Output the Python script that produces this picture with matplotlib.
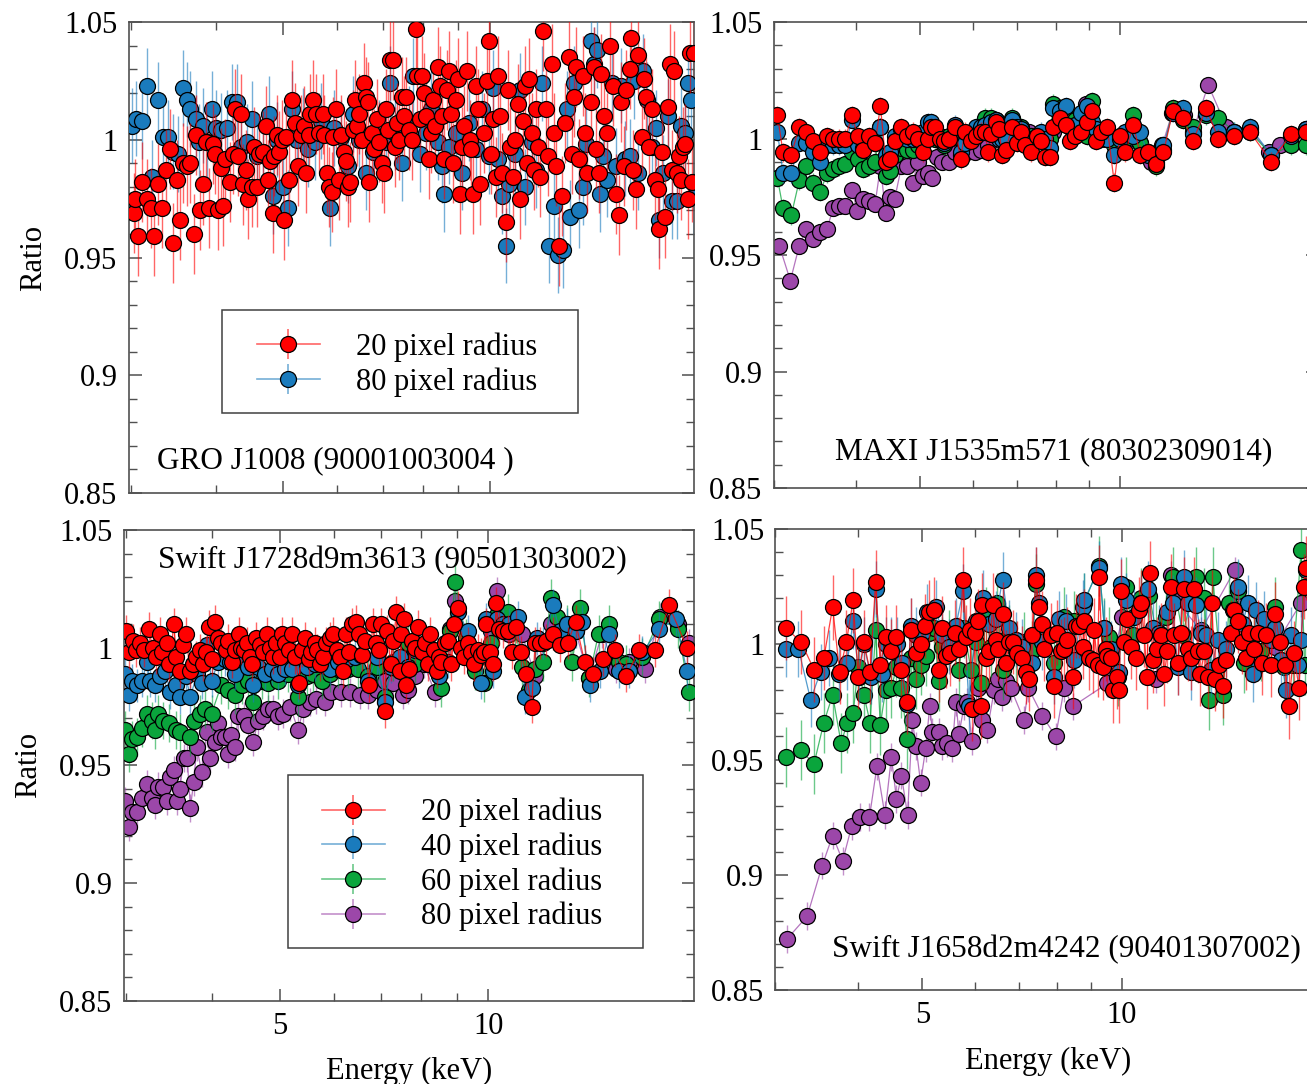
import numpy as np
import matplotlib
matplotlib.use('Agg')
import matplotlib.pyplot as plt
from matplotlib.ticker import FixedLocator, FuncFormatter, NullFormatter
from matplotlib.lines import Line2D
from matplotlib.patches import Rectangle
from matplotlib.legend_handler import HandlerTuple

plt.rcParams['font.family'] = ['Liberation Serif', 'DejaVu Serif']

# ---------------- data ----------------
# Panel 1: GRO J1008 (90001003004)
tl_red_e = [3.03,3.04,3.08,3.12,3.17,3.21,3.25,3.29,3.33,3.38,
            3.42,3.46,3.51,3.54,3.58,3.62,3.66,3.71,3.73,3.78,
            3.83,3.86,3.90,3.95,3.98,4.02,4.06,4.09,4.12,4.18,
            4.23,4.26,4.30,4.35,4.38,4.42,4.45,4.51,4.54,4.58,
            4.62,4.68,4.72,4.76,4.79,4.83,4.86,4.90,4.94,4.99,
            5.01,5.06,5.10,5.15,5.20,5.26,5.32,5.37,5.40,5.45,
            5.48,5.54,5.58,5.65,5.71,5.73,5.79,5.84,5.89,5.92,
            5.97,6.04,6.08,6.13,6.18,6.22,6.27,6.32,6.36,6.42,
            6.46,6.51,6.56,6.61,6.66,6.68,6.74,6.79,6.86,6.91,
            6.96,7.01,7.07,7.12,7.15,7.23,7.28,7.34,7.39,7.45,
            7.50,7.56,7.64,7.71,7.80,7.85,7.91,7.97,8.03,8.09,
            8.15,8.22,8.28,8.34,8.40,8.47,8.53,8.57,8.66,8.72,
            8.79,8.85,8.92,8.99,9.05,9.12,9.19,9.28,9.35,9.39,
            9.46,9.54,9.61,9.68,9.80,9.91,9.98,10.06,10.13,10.21,
            10.29,10.36,10.44,10.57,10.64,10.72,10.80,10.88,11.00,11.08,
            11.17,11.25,11.34,11.42,11.51,11.59,11.68,11.76,11.85,11.98,
            12.09,12.16,12.31,12.40,12.49,12.64,12.74,12.88,13.03,13.17,
            13.27,13.37,13.51,13.66,13.77,13.87,14.04,14.19,14.30,14.41,
            14.51,14.69,14.84,15.00,15.13,15.29,15.41,15.52,15.69,15.82,
            15.99,16.06,16.16,16.35,16.47,16.65,16.77,16.90,17.05,17.23,
            17.42,17.58,17.68,17.84,18.03,18.17,18.30,18.44,18.58,18.72,
            18.86,19.00,19.14,19.28,19.43,19.57,19.72,19.87]
tl_red_r = [0.969,0.975,0.959,0.982,0.975,0.971,0.959,0.981,0.971,0.987,
            0.996,0.956,0.983,0.966,0.990,0.989,0.990,0.960,1.002,0.970,
            0.981,0.999,0.971,0.998,0.994,0.970,0.988,0.972,0.992,0.982,
            0.994,1.013,0.993,1.011,0.981,0.987,0.975,0.980,0.997,0.980,
            0.994,0.995,1.006,0.983,0.991,0.969,0.993,1.002,0.995,1.000,
            0.966,1.001,0.983,1.017,1.007,0.989,1.002,1.006,0.986,1.002,
            1.011,1.017,1.011,1.003,1.011,1.002,0.986,0.980,0.978,1.001,
            1.013,0.983,1.002,0.995,0.991,0.980,0.982,1.004,1.017,1.006,
            1.011,1.000,1.024,1.018,1.016,0.982,1.003,0.996,1.009,0.999,
            0.990,0.986,1.013,1.004,1.034,1.034,0.997,1.007,1.000,1.018,
            1.010,1.018,1.004,1.000,1.047,1.027,1.009,1.027,1.020,1.010,
            0.992,1.003,1.017,1.006,1.031,1.023,1.010,0.992,1.021,1.029,
            1.011,0.990,1.017,1.026,0.977,0.997,1.006,1.029,1.000,0.996,
            0.977,1.023,1.013,0.981,1.003,1.025,1.042,0.994,1.009,0.984,
            1.027,1.010,0.986,0.965,1.021,0.997,0.984,1.000,1.015,0.975,
            1.008,1.023,0.990,1.026,1.003,0.987,1.013,0.997,0.984,1.046,
            1.013,0.993,1.032,1.003,0.989,0.955,0.976,1.007,1.035,0.994,
            1.018,1.031,0.992,1.027,1.003,0.986,1.016,1.031,0.996,0.986,
            1.028,1.010,1.003,1.040,1.023,0.977,0.968,1.016,0.989,1.021,
            1.030,1.043,0.987,0.979,1.036,1.001,1.026,1.018,0.997,1.013,
            0.983,0.979,0.962,0.995,0.967,1.014,1.032,0.987,1.029,0.986,
            0.993,0.983,0.997,0.998,0.975,1.037,0.982,1.037]
tl_blue_e = [3.01,3.05,3.12,3.17,3.22,3.29,3.34,3.40,3.46,3.52,
             3.58,3.62,3.66,3.73,3.77,3.82,3.88,3.94,4.00,4.06,
             4.15,4.22,4.28,4.34,4.43,4.51,4.59,4.68,4.78,4.83,
             4.90,5.00,5.08,5.15,5.24,5.34,5.44,5.56,5.69,5.86,
             5.94,6.08,6.22,6.32,6.46,6.61,6.76,6.91,7.07,7.15,
             7.28,7.45,7.62,7.74,7.91,8.07,8.22,8.40,8.53,8.57,
             8.72,8.92,9.12,9.32,9.54,9.76,9.98,10.13,10.29,10.44,
             10.57,10.68,10.88,11.08,11.25,11.51,11.68,11.94,12.22,12.40,
             12.58,12.78,12.97,13.11,13.27,13.51,13.66,13.83,14.04,14.19,
             14.34,14.47,14.62,14.84,15.06,15.29,15.52,15.76,15.99,16.23,
             16.47,16.72,16.97,17.23,17.50,17.68,17.90,18.17,18.44,18.72,
             19.00,19.23,19.43,19.63,19.87]
tl_blue_r = [1.006,1.009,1.008,1.023,0.984,1.017,1.001,1.001,0.995,0.994,
             1.022,1.017,1.013,1.009,0.999,1.006,0.999,1.013,1.005,1.004,
             1.005,1.016,1.016,0.997,0.999,1.009,0.993,0.995,1.011,0.976,
             1.000,0.980,0.971,1.013,1.000,1.006,0.996,0.999,1.008,0.971,
             1.005,1.001,0.989,1.011,1.000,0.986,0.995,1.001,0.999,1.024,
             1.003,0.990,1.007,1.027,0.994,1.003,1.013,0.999,0.989,0.977,
             0.997,1.003,0.986,1.007,0.996,1.013,0.993,1.022,0.992,0.976,
             0.955,0.981,0.994,1.021,0.980,0.999,0.987,1.024,0.955,0.972,
             0.951,0.953,1.013,0.967,1.024,0.970,0.980,0.998,1.042,1.032,
             1.038,0.977,0.993,0.983,1.024,0.989,1.023,0.992,0.993,1.025,
             0.986,1.029,1.017,0.997,1.005,0.966,0.986,1.010,0.974,0.974,
             1.006,1.003,1.024,1.017,0.976]

# Panel 2: MAXI J1535m571 (80302309014)
tr_e = [3.04,3.10,3.19,3.28,3.36,3.44,3.53,3.61,3.69,3.76,
        3.85,3.94,4.02,4.10,4.18,4.27,4.35,4.43,4.49,4.58,
        4.68,4.77,4.87,4.95,5.05,5.14,5.19,5.26,5.35,5.43,
        5.53,5.64,5.75,5.83,5.96,6.06,6.17,6.25,6.33,6.39,
        6.50,6.57,6.64,6.73,6.87,6.99,7.10,7.20,7.35,7.50,
        7.60,7.70,7.84,7.94,8.12,8.28,8.42,8.57,8.73,8.92,
        9.09,9.21,9.37,9.57,9.81,10.00,10.20,10.48,10.74,11.03,
        11.33,11.64,12.03,12.44,12.90,13.51,14.08,14.88,15.71,16.93,
        18.15,19.14]
tr_red_r = [1.010,0.994,0.993,1.005,1.003,0.999,0.994,1.001,1.000,1.000,
            1.000,1.010,1.001,0.995,1.001,0.998,1.014,0.990,0.991,0.999,
            1.005,1.001,1.003,1.000,0.994,1.000,1.005,1.005,1.000,0.999,
            1.000,1.005,0.991,1.003,0.999,1.001,1.003,1.003,0.994,1.002,
            1.007,1.004,0.993,0.995,1.005,0.998,1.003,0.997,0.994,1.001,
            0.999,0.992,0.992,1.005,1.009,1.006,0.999,1.001,1.003,1.007,
            1.012,0.999,1.003,1.005,0.981,1.001,0.994,1.006,0.993,0.994,
            0.989,0.994,1.012,1.009,0.999,1.013,1.000,1.001,1.003,0.990,
            1.002,1.003]
tr_blue_r = [1.003,0.985,0.985,0.998,0.998,0.994,0.990,0.997,0.997,0.997,
             0.997,1.008,0.997,0.996,1.000,0.998,1.005,0.993,0.994,1.001,
             1.004,1.000,1.000,1.000,1.003,1.007,1.007,1.002,1.000,0.998,
             1.000,1.006,0.994,0.998,1.000,1.005,1.005,1.006,1.003,1.007,
             1.008,1.000,1.000,1.000,1.008,1.005,1.004,0.998,1.000,1.000,
             1.003,1.000,0.996,1.013,1.012,1.014,1.005,1.006,1.011,1.014,
             1.007,1.004,1.000,1.000,0.993,1.000,1.003,1.001,1.003,0.993,
             0.990,0.997,1.011,1.013,1.002,1.011,1.003,1.003,1.005,0.993,
             1.001,1.004]
tr_green_r = [0.983,0.970,0.967,0.982,0.988,0.981,0.977,0.985,0.987,0.988,
              0.989,0.994,0.991,0.987,0.988,0.990,1.005,0.984,0.986,0.993,
              0.996,0.995,0.995,0.997,0.998,1.003,1.001,1.000,1.001,0.997,
              1.001,1.005,1.000,0.999,1.001,1.003,1.005,1.009,1.004,1.009,
              1.008,1.004,1.003,1.000,1.009,1.004,1.005,1.000,1.001,1.001,
              1.001,1.000,1.000,1.015,1.013,1.010,1.008,1.008,1.008,1.001,
              1.016,1.004,1.001,1.000,0.997,1.001,1.000,1.010,0.998,0.994,
              0.988,0.995,1.013,1.008,1.005,1.010,1.009,1.003,1.003,0.993,
              0.997,0.997]
tr_purple_e = [3.06,3.18,3.28,3.36,3.44,3.53,3.61,3.69,3.76,3.85,
               3.94,4.01,4.10,4.18,4.27,4.35,4.43,4.49,4.57,4.68,
               4.77,4.87,4.95,5.05,5.14,5.21,5.29,5.39,5.53,5.64,
               5.75,5.88,6.04,6.17,6.33,6.50,6.73,7.01,7.29,7.60,
               7.92,8.23,8.57,8.88,9.19,9.54,9.94,10.34,10.74,11.14,
               11.59,12.00,12.49,12.90,13.60,14.49,15.71,16.80,17.48,19.14]
tr_purple_r = [0.954,0.939,0.954,0.961,0.957,0.960,0.961,0.970,0.971,0.971,
               0.978,0.969,0.974,0.973,0.972,0.988,0.968,0.975,0.974,0.988,
               0.988,0.981,0.990,0.984,0.985,0.983,0.992,0.990,0.990,0.994,
               0.993,0.994,0.994,0.995,0.997,1.003,1.000,1.003,1.003,1.001,
               1.003,1.008,1.005,1.015,1.004,1.000,0.997,1.000,0.998,0.990,
               0.997,1.011,1.010,1.003,1.023,1.005,1.004,0.994,0.997,1.004]

# Panel 3: Swift J1728d9m3613 (90501303002)
bl_red_e = [3.00,3.03,3.07,3.10,3.15,3.19,3.24,3.28,3.32,3.36,
            3.39,3.44,3.47,3.52,3.55,3.59,3.63,3.67,3.71,3.75,
            3.79,3.84,3.88,3.92,3.95,3.99,4.03,4.08,4.12,4.18,
            4.22,4.27,4.32,4.37,4.40,4.45,4.49,4.54,4.57,4.63,
            4.68,4.73,4.79,4.84,4.89,4.95,5.00,5.04,5.10,5.16,
            5.21,5.27,5.33,5.39,5.45,5.51,5.56,5.62,5.67,5.72,
            5.78,5.84,5.91,5.98,6.05,6.11,6.17,6.23,6.30,6.37,
            6.44,6.51,6.58,6.65,6.73,6.81,6.88,6.96,7.01,7.09,
            7.15,7.23,7.30,7.37,7.45,7.49,7.56,7.62,7.68,7.76,
            7.84,7.93,8.02,8.11,8.19,8.25,8.34,8.44,8.50,8.56,
            8.66,8.76,8.85,8.93,9.03,9.13,9.24,9.34,9.45,9.55,
            9.66,9.76,9.87,9.94,10.05,10.16,10.27,10.36,10.51,10.67,
            10.82,10.98,11.15,11.35,11.55,11.68,11.86,12.13,12.40,12.68,
            13.01,13.36,13.77,14.18,14.64,15.21,15.82,16.50,17.39,18.22,
            19.34]
bl_red_r = [1.007,0.998,1.003,0.999,1.002,0.999,1.008,1.000,0.996,1.006,
            0.998,1.002,0.993,1.010,0.996,0.990,1.001,1.006,0.990,0.993,
            0.996,0.999,0.993,0.998,1.009,0.995,1.011,1.004,1.002,0.999,
            1.003,0.994,0.999,1.006,1.000,0.999,1.002,0.996,0.993,1.004,
            1.001,0.998,1.006,1.000,0.996,1.002,0.996,1.006,1.002,0.999,
            1.006,0.996,0.985,0.999,1.004,0.995,0.998,1.002,0.999,0.993,
            0.996,1.002,1.004,1.006,0.999,0.996,0.990,1.006,0.998,1.010,
            1.011,1.006,0.997,1.003,0.984,1.010,1.002,0.999,1.010,0.973,
            1.007,0.993,1.003,1.015,0.990,1.006,1.012,0.984,0.991,1.003,
            1.000,1.009,0.998,1.002,0.993,1.006,0.999,0.990,0.996,0.994,
            1.002,1.003,0.993,1.010,1.017,1.000,0.996,1.002,0.998,0.993,
            0.999,0.997,0.998,1.010,0.998,0.993,1.019,1.008,1.007,1.007,
            0.998,1.009,0.998,0.989,0.975,1.002,1.002,1.003,1.006,1.001,
            1.002,1.011,0.994,0.989,0.995,0.999,0.988,0.999,0.999,1.018,
            1.000]
bl_blue_e = [2.99,3.03,3.06,3.11,3.17,3.22,3.25,3.31,3.36,3.42,
             3.48,3.54,3.59,3.66,3.72,3.80,3.86,3.93,3.99,4.08,
             4.17,4.24,4.31,4.39,4.51,4.58,4.66,4.76,4.87,4.98,
             5.09,5.21,5.32,5.47,5.62,5.75,5.91,6.08,6.25,6.42,
             6.56,6.71,6.90,7.09,7.25,7.45,7.66,
             7.84,8.19,8.50,8.76,9.03,9.36,9.76,9.94,10.16,10.31,
             10.51,10.70,11.02,11.31,11.55,11.77,12.00,12.40,12.68,12.97,
             13.36,13.65,14.01,14.49,14.93,15.44,15.95,16.68,17.65,18.64,
             19.34]
bl_blue_r = [0.989,0.980,0.986,0.984,0.986,0.994,0.986,0.984,0.988,0.990,
             0.981,0.984,0.979,0.988,0.979,0.989,0.985,1.001,0.986,0.994,
             0.995,0.994,0.989,0.996,0.992,0.984,0.992,0.989,0.991,0.989,
             0.991,0.991,0.984,0.992,0.993,0.994,0.991,0.994,0.995,0.996,
             0.997,0.986,0.996,0.977,0.992,0.996,0.992,
             0.999,0.996,0.988,0.994,1.015,1.007,0.985,1.012,0.990,1.012,
             1.010,1.010,1.013,0.979,0.983,1.004,1.002,1.018,1.007,1.010,
             1.007,1.011,0.984,0.990,1.006,0.990,0.990,0.998,1.008,1.012,
             0.990]
bl_green_e = [2.99,3.03,3.06,3.11,3.17,3.22,3.27,3.31,3.34,3.40,
              3.46,3.54,3.59,3.72,3.76,3.84,3.91,3.99,4.12,4.22,
              4.31,4.41,4.51,4.58,4.71,4.82,4.98,5.15,5.32,5.47,
              5.59,5.75,5.91,6.08,6.28,6.49,6.71,6.90,7.09,7.29,
              7.49,7.66,
              7.84,8.14,8.56,8.82,8.96,9.29,9.58,9.87,10.08,10.31,
              10.67,10.93,11.18,11.43,11.68,12.00,12.31,12.58,12.97,13.22,
              13.55,13.97,14.42,14.93,15.44,15.82,16.68,17.65,18.78,19.48]
bl_green_r = [0.965,0.955,0.961,0.962,0.966,0.972,0.969,0.965,0.972,0.969,
              0.968,0.965,0.964,0.962,0.969,0.972,0.974,0.972,0.984,0.982,
              0.980,0.984,0.986,0.977,0.986,0.985,0.986,0.989,0.979,0.988,
              0.989,0.986,0.989,0.991,0.991,0.991,0.988,0.992,0.979,0.994,
              0.995,1.002,
              0.993,0.998,0.983,1.007,1.028,1.004,0.990,0.985,1.002,1.014,
              1.015,1.009,0.992,0.982,0.991,0.994,1.021,1.013,1.010,0.994,
              1.017,0.987,1.006,1.010,0.994,0.993,0.996,1.012,1.008,0.981]
bl_purple_e = [2.99,3.03,3.06,3.11,3.17,3.22,3.27,3.31,3.34,3.40,
               3.44,3.48,3.52,3.56,3.59,3.64,3.68,3.72,3.76,3.80,
               3.86,3.93,3.97,4.03,4.08,4.12,4.17,4.22,4.26,4.31,
               4.36,4.44,4.51,4.58,4.66,4.73,4.82,4.90,4.98,5.06,
               5.18,5.32,5.41,5.53,5.65,5.81,5.94,6.14,6.32,6.53,
               6.71,6.90,7.09,7.29,7.53,7.66,
               7.84,8.07,8.38,8.82,8.96,9.29,9.72,10.08,10.31,10.70,
               11.18,11.68,12.31,12.97,13.36,13.97,14.59,15.26,15.95,16.80,
               17.70,18.78,19.48]
bl_purple_r = [0.935,0.924,0.930,0.930,0.936,0.942,0.936,0.933,0.941,0.941,
               0.935,0.945,0.948,0.935,0.940,0.953,0.953,0.932,0.943,0.958,
               0.947,0.964,0.953,0.960,0.968,0.962,0.962,0.955,0.963,0.958,
               0.971,0.971,0.967,0.960,0.969,0.971,0.974,0.974,0.971,0.972,
               0.975,0.965,0.974,0.977,0.978,0.977,0.981,0.981,0.981,0.980,
               0.980,0.982,0.986,0.985,0.980,0.982,
               0.988,0.993,0.981,1.008,1.020,1.003,0.996,1.007,1.024,1.006,
               1.006,0.988,1.010,1.006,1.007,0.987,1.006,0.991,0.994,0.991,
               1.013,1.010,1.002]

# Panel 4: Swift J1658d2m4242 (90401307002)
br_red_e = [3.11,3.28,3.43,3.55,3.66,3.75,3.84,3.93,4.00,4.08,
            4.17,4.25,4.32,4.40,4.49,4.57,4.65,4.74,4.80,4.89,
            4.97,5.05,5.12,5.21,5.29,5.36,5.42,5.50,5.60,5.68,
            5.76,5.83,5.90,5.95,6.01,6.06,6.13,6.16,6.23,6.31,
            6.39,6.45,6.51,6.61,6.69,6.76,6.86,6.96,7.08,7.17,
            7.25,7.33,7.42,7.51,7.59,7.64,
            7.81,7.91,8.00,8.09,8.19,8.28,8.43,8.53,8.63,8.73,
            8.78,8.93,9.04,9.09,9.20,9.25,9.36,9.47,9.52,9.63,
            9.72,9.84,9.92,9.98,10.07,10.19,10.33,10.51,10.61,10.69,
            10.82,10.92,11.02,11.14,11.31,11.47,11.60,11.73,11.87,11.98,
            12.15,12.29,12.41,12.58,12.73,12.88,13.03,13.15,13.34,13.49,
            13.68,13.84,14.05,14.22,14.38,14.64,14.77,14.98,15.21,15.42,
            15.60,15.84,16.06,16.29,16.54,16.79,17.06,17.32,17.66,17.87,
            18.20,18.53,18.85,19.00]
br_red_r = [1.007,1.001,0.989,0.994,1.016,0.988,1.001,1.019,0.986,1.001,
            0.988,1.027,0.991,1.003,0.997,1.003,0.989,0.975,1.006,0.996,
            1.000,1.008,1.014,1.015,0.989,1.007,0.995,0.996,1.005,0.998,
            1.028,1.003,1.006,0.972,1.005,1.010,0.973,1.017,0.994,0.997,
            1.017,1.002,0.998,1.013,0.992,1.001,1.001,0.996,0.994,0.988,
            0.985,1.004,1.028,1.016,1.009,0.998,
            1.004,0.982,1.005,0.997,0.998,1.002,0.986,1.008,1.008,0.999,
            1.010,0.994,0.993,1.006,0.991,1.029,0.990,0.998,0.995,0.994,
            0.980,0.986,0.980,1.023,1.001,1.011,0.999,0.994,1.015,1.018,
            1.004,0.986,1.031,0.993,0.998,1.004,0.987,0.997,1.025,1.004,
            0.992,1.005,1.024,0.998,0.994,1.024,0.997,0.987,0.997,0.986,
            1.018,0.985,0.991,0.982,0.993,1.005,1.015,1.010,1.001,0.994,
            1.005,0.998,1.005,0.992,1.004,0.991,1.013,1.001,0.991,0.973,
            0.996,0.981,1.025,1.033]
br_blue_e = [3.11,3.25,3.39,3.51,3.61,3.74,3.85,3.93,4.01,4.08,
             4.18,4.25,4.34,4.40,4.48,4.58,4.66,4.74,4.80,4.89,
             5.00,5.09,5.24,5.36,5.49,5.62,5.76,5.88,6.02,6.18,
             6.31,6.45,6.61,6.76,6.92,7.08,7.32,7.42,7.51,7.59,
             7.91,8.05,8.24,8.48,8.73,8.78,9.25,9.42,9.63,9.92,
             9.98,10.15,10.45,10.69,10.95,11.14,11.40,11.73,11.94,12.15,
             12.41,12.58,12.73,12.95,13.18,13.41,13.65,13.97,14.38,14.72,
             14.98,15.24,15.51,15.80,15.96,16.43,16.82,17.02,17.42,17.73,
             18.03,18.46,18.67,19.00]
br_blue_r = [0.998,0.998,0.976,0.988,0.994,0.987,0.992,1.010,0.986,1.000,
             0.986,1.024,0.987,1.000,1.000,1.000,0.992,0.974,1.008,1.004,
             1.005,1.014,1.016,1.004,0.999,1.008,1.023,0.973,1.010,1.020,
             1.009,1.011,1.028,1.007,1.002,0.999,0.992,1.030,1.018,1.001,
             0.986,1.011,1.010,0.993,1.016,1.019,1.033,1.007,0.998,0.988,
             1.026,1.019,1.012,1.018,1.024,1.007,1.005,1.014,1.018,0.990,
             1.029,1.018,0.988,1.017,1.005,1.004,0.989,1.002,0.998,1.015,
             1.025,1.009,1.018,0.987,1.015,1.011,1.002,1.007,0.993,0.980,
             1.004,0.991,1.002,1.032]
br_green_e = [3.11,3.28,3.43,3.55,3.66,3.77,3.85,3.93,4.00,4.08,
              4.17,4.25,4.32,4.40,4.49,4.57,4.65,4.74,4.80,4.89,
              4.97,5.06,5.12,5.21,5.29,5.36,5.49,5.68,5.78,5.92,
              6.02,6.13,6.23,6.36,6.49,6.61,6.76,6.92,7.12,7.33,
              7.42,7.59,
              7.91,8.19,8.48,8.78,9.25,9.42,9.58,9.86,10.15,10.39,
              10.69,11.01,11.27,11.67,11.94,12.37,12.95,13.34,13.57,13.73,
              14.22,14.55,14.98,15.33,15.87,16.24,17.02,17.62,18.14,18.67,
              18.89]
br_green_r = [0.951,0.954,0.948,0.966,0.978,0.957,0.966,0.970,0.990,0.978,
              0.966,1.006,0.965,0.980,0.981,0.990,0.981,0.959,0.994,0.985,
              0.991,0.995,1.005,1.007,0.984,0.999,1.002,0.989,1.007,0.989,
              1.001,0.983,1.012,0.999,1.018,0.989,1.004,0.997,1.001,0.997,
              1.026,1.008,
              0.992,1.012,1.010,1.018,1.034,1.007,1.003,0.986,1.025,1.004,
              1.020,1.021,1.006,1.012,1.029,1.004,1.029,1.020,0.976,1.029,
              0.978,1.018,1.023,0.992,1.004,0.997,1.016,0.990,0.991,1.041,
              0.991]
br_purple_e = [3.12,3.35,3.53,3.66,3.79,3.91,4.03,4.16,4.27,4.39,
               4.49,4.57,4.65,4.75,4.83,4.89,4.97,5.06,5.13,5.18,
               5.30,5.35,5.45,5.55,5.62,5.68,5.78,5.85,5.94,6.06,
               6.16,6.27,6.42,6.51,6.59,6.69,6.80,7.12,7.23,7.59,
               7.95,8.19,8.43,9.52,10.03,11.27,11.87,12.00,13.18,14.81,
               15.87,17.02,18.67]
br_purple_r = [0.872,0.882,0.904,0.917,0.906,0.921,0.925,0.925,0.947,0.926,
               0.951,0.933,0.943,0.926,0.967,0.956,0.940,0.955,0.973,0.962,
               0.962,0.956,0.957,0.955,0.975,0.961,0.973,0.975,0.958,0.981,
               0.967,0.963,0.980,0.985,0.977,0.984,0.981,0.967,0.981,0.969,
               0.960,0.981,0.973,0.983,1.012,0.985,1.030,1.020,1.006,1.032,
               0.989,0.999,1.018]

# typical 1-sigma error of each series (20, 40, 60, 80 pixel radius)
tl_err = [0.017, 0.016]
tr_err = [0.004, 0.004, 0.004, 0.003]
bl_err = [0.007, 0.007, 0.008, 0.006]
br_err = [0.014, 0.012, 0.013, 0.006]

labels = ['20 pixel radius', '40 pixel radius', '60 pixel radius', '80 pixel radius']
titles = ['GRO J1008 (90001003004 )', 'MAXI J1535m571 (80302309014)',
          'Swift J1728d9m3613 (90501303002)', 'Swift J1658d2m4242 (90401307002)']
y_ticks = [0.85, 0.9, 0.95, 1.0, 1.05]
x_major = [5, 10]
x_minor = [3, 4, 6, 7, 8, 9]

# ---------------- style ----------------
COLORS = ['#ff0000', '#1a7bbd', '#0aa53c', '#9c47a9']
FS = 22
MS = 11.5
SPINE = '#505050'

fig = plt.figure(figsize=(13.07, 10.84), dpi=100)

ax_tl = fig.add_axes([0.0984, 0.5452, 0.4326, 0.4345])
ax_tr = fig.add_axes([0.5919, 0.5498, 0.4168, 0.4299])
ax_bl = fig.add_axes([0.0946, 0.0769, 0.4364, 0.4341])
ax_br = fig.add_axes([0.5933, 0.0867, 0.4168, 0.4253])


def series(ax, e, r, err, color, z, line=True):
    n = min(len(e), len(r))
    e = np.asarray(e[:n], dtype=float)
    r = np.asarray(r[:n], dtype=float)
    if line:
        ax.plot(e, r, '-', color=color, alpha=0.75, lw=0.9, zorder=z)
    ax.errorbar(e, r, yerr=err, fmt='none', ecolor=color, elinewidth=1.0,
                alpha=0.6, zorder=z)
    ax.plot(e, r, 'o', ls='none', ms=MS, mfc=color, mec='black', mew=0.9,
            zorder=z + 0.5)


def style(ax, xlim, xlabels, ylabel, xlab):
    ax.set_xscale('log')
    ax.set_xlim(*xlim)
    ax.set_ylim(0.85, 1.05)
    ax.xaxis.set_major_locator(FixedLocator(x_major))
    ax.xaxis.set_minor_locator(FixedLocator(x_minor))
    ax.xaxis.set_major_formatter(FuncFormatter(lambda v, p: '%g' % v))
    ax.xaxis.set_minor_formatter(NullFormatter())
    ax.yaxis.set_major_locator(FixedLocator(y_ticks))
    ax.yaxis.set_minor_locator(FixedLocator(np.arange(0.85, 1.0501, 0.01)))
    ax.yaxis.set_major_formatter(FuncFormatter(lambda v, p: '%g' % round(v, 3)))
    ax.tick_params(which='both', direction='in', top=True, right=True,
                   color=SPINE)
    ax.tick_params(which='major', length=9, width=1.1, labelsize=FS, pad=8)
    ax.tick_params(which='minor', length=5.5, width=1.0)
    if not xlabels:
        ax.tick_params(axis='x', which='both', labelbottom=False)
    for s in ax.spines.values():
        s.set_color(SPINE)
        s.set_linewidth(1.2)
    if ylabel:
        ax.set_ylabel('Ratio', fontsize=FS, labelpad=12)
    if xlab:
        ax.set_xlabel('Energy (keV)', fontsize=FS, labelpad=12)


def legend_handle(color):
    h_line = Line2D([], [], color=color, alpha=0.6, lw=1.2)
    v_bar = Line2D([], [], marker='|', ms=21, mew=1.2, color=color, alpha=0.6,
                   ls='none')
    mk = Line2D([], [], marker='o', ms=MS, mfc=color, mec='black', mew=0.9,
                ls='none')
    return (h_line, v_bar, mk)


def add_legend(ax, cols, labs, box, anchor):
    x0, y0, x1, y1 = box
    ax.add_patch(Rectangle((x0, y0), x1 - x0, y1 - y0, transform=ax.transAxes,
                           facecolor='white', edgecolor='#404040', lw=1.1,
                           zorder=19))
    handles = [legend_handle(c) for c in cols]
    leg = ax.legend(handles, labs, handler_map={tuple: HandlerTuple(ndivide=1, pad=0)},
                    loc='center left', bbox_to_anchor=anchor, frameon=False,
                    fontsize=FS, handlelength=2.06, handletextpad=1.18,
                    labelspacing=0.17, borderpad=0, borderaxespad=0)
    leg.set_zorder(20)


# Panel 1 (two extraction radii: 20 px red, 80 px blue)
series(ax_tl, tl_blue_e, tl_blue_r, tl_err[1], COLORS[1], 3, line=False)
series(ax_tl, tl_red_e, tl_red_r, tl_err[0], COLORS[0], 5, line=False)
style(ax_tl, (2.98, 19.85), False, True, False)
add_legend(ax_tl, [COLORS[0], COLORS[1]], [labels[0], labels[3]],
           (0.165, 0.170, 0.795, 0.3885), (0.227, 0.273))
ax_tl.text(0.050, 0.068, titles[0], transform=ax_tl.transAxes, fontsize=22.5,
           ha='left', va='center', zorder=25)

# Panel 2
series(ax_tr, tr_purple_e, tr_purple_r, tr_err[3], COLORS[3], 2)
series(ax_tr, tr_e, tr_green_r, tr_err[2], COLORS[2], 3)
series(ax_tr, tr_e, tr_blue_r, tr_err[1], COLORS[1], 4)
series(ax_tr, tr_e, tr_red_r, tr_err[0], COLORS[0], 5)
style(ax_tr, (3.0, 19.95), False, False, False)
ax_tr.text(0.113, 0.077, titles[1], transform=ax_tr.transAxes, fontsize=22.5,
           ha='left', va='center', zorder=25)

# Panel 3
series(ax_bl, bl_purple_e, bl_purple_r, bl_err[3], COLORS[3], 2)
series(ax_bl, bl_green_e, bl_green_r, bl_err[2], COLORS[2], 3)
series(ax_bl, bl_blue_e, bl_blue_r, bl_err[1], COLORS[1], 4)
series(ax_bl, bl_red_e, bl_red_r, bl_err[0], COLORS[0], 5)
style(ax_bl, (2.98, 19.8), True, True, True)
add_legend(ax_bl, COLORS, labels, (0.288, 0.1118, 0.9106, 0.479), (0.3477, 0.2893))
ax_bl.text(0.060, 0.936, titles[2], transform=ax_bl.transAxes, fontsize=22.5,
           ha='left', va='center', zorder=25)

# Panel 4
series(ax_br, br_purple_e, br_purple_r, br_err[3], COLORS[3], 2)
series(ax_br, br_green_e, br_green_r, br_err[2], COLORS[2], 3)
series(ax_br, br_blue_e, br_blue_r, br_err[1], COLORS[1], 4)
series(ax_br, br_red_e, br_red_r, br_err[0], COLORS[0], 5)
style(ax_br, (3.0, 19.95), True, False, True)
ax_br.text(0.104, 0.087, titles[3], transform=ax_br.transAxes, fontsize=22.5,
           ha='left', va='center', zorder=25)

fig.savefig('out.png', dpi=100)
